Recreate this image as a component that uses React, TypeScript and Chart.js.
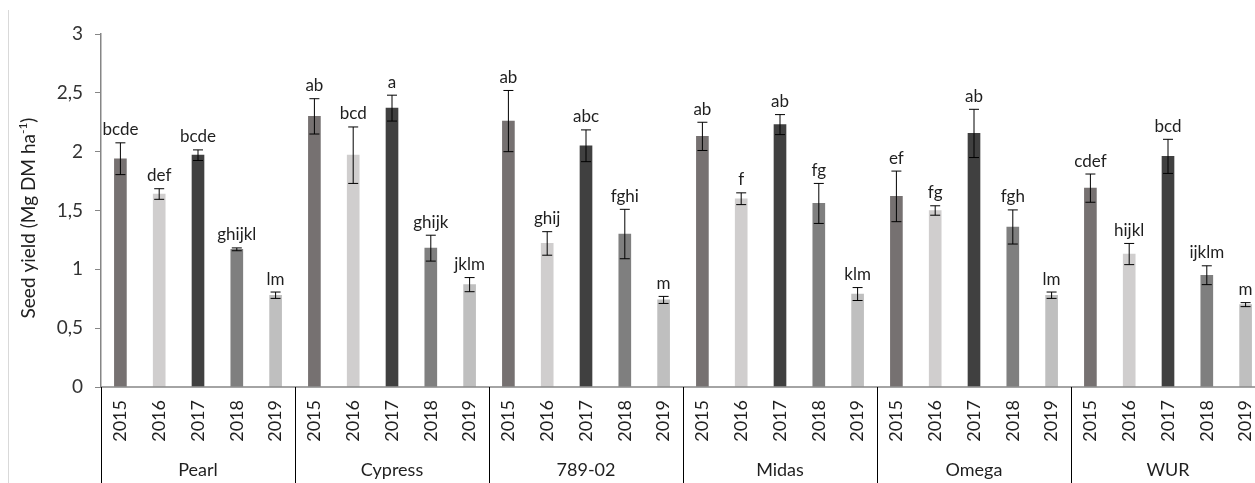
import React, { useEffect, useRef } from "react";
import { Chart, registerables } from "chart.js";

Chart.register(...registerables);

const varieties = ["Pearl", "Cypress", "789-02", "Midas", "Omega", "WUR"];
const years = ["2015", "2016", "2017", "2018", "2019"];
const yTicks = [0, 0.5, 1, 1.5, 2, 2.5, 3];

const meanPearl = [1.94, 1.64, 1.97, 1.17, 0.78];
const meanCypress = [2.3, 1.97, 2.37, 1.18, 0.87];
const mean78902 = [2.26, 1.22, 2.05, 1.3, 0.74];
const meanMidas = [2.13, 1.6, 2.23, 1.56, 0.79];
const meanOmega = [1.62, 1.5, 2.155, 1.36, 0.78];
const meanWUR = [1.69, 1.13, 1.96, 0.95, 0.7];

const errPearl = [0.135, 0.045, 0.045, 0.012, 0.027];
const errCypress = [0.15, 0.24, 0.11, 0.11, 0.06];
const err78902 = [0.26, 0.1, 0.135, 0.21, 0.03];
const errMidas = [0.12, 0.05, 0.085, 0.17, 0.055];
const errOmega = [0.215, 0.04, 0.205, 0.145, 0.027];
const errWUR = [0.12, 0.09, 0.145, 0.08, 0.017];

const letPearl = ["bcde", "def", "bcde", "ghijkl", "lm"];
const letCypress = ["ab", "bcd", "a", "ghijk", "jklm"];
const let78902 = ["ab", "ghij", "abc", "fghi", "m"];
const letMidas = ["ab", "f", "ab", "fg", "klm"];
const letOmega = ["ef", "fg", "ab", "fgh", "lm"];
const letWUR = ["cdef", "hijkl", "bcd", "ijklm", "m"];

const yearColors = ["#767171", "#d0cece", "#404040", "#7f7f7f", "#bfbfbf"];

const means = [meanPearl, meanCypress, mean78902, meanMidas, meanOmega, meanWUR].flat();
const errs = [errPearl, errCypress, err78902, errMidas, errOmega, errWUR].flat();
const lets = [letPearl, letCypress, let78902, letMidas, letOmega, letWUR].flat();
const labels = varieties.flatMap((v) => years.map((y) => `${v} ${y}`));
const colors = varieties.flatMap(() => yearColors);

const FONT = "Lato, 'Open Sans', sans-serif";

const overlayPlugin = {
  id: "overlay",
  afterDatasetsDraw(chart: any) {
    const ctx = chart.ctx;
    const y = chart.scales.y;
    const meta = chart.getDatasetMeta(0);
    ctx.save();
    meta.data.forEach((bar: any, i: number) => {
      const x = bar.x;
      const top = y.getPixelForValue(means[i] + errs[i]);
      const bot = y.getPixelForValue(means[i] - errs[i]);
      ctx.strokeStyle = "#000";
      ctx.lineWidth = 1;
      ctx.beginPath();
      ctx.moveTo(x, top);
      ctx.lineTo(x, bot);
      ctx.moveTo(x - 5, top);
      ctx.lineTo(x + 5, top);
      ctx.moveTo(x - 5, bot);
      ctx.lineTo(x + 5, bot);
      ctx.stroke();
      ctx.fillStyle = "#1f1f1f";
      ctx.font = `17px ${FONT}`;
      ctx.textAlign = "center";
      ctx.textBaseline = "alphabetic";
      ctx.fillText(lets[i], x, top - 7.5);
    });
    ctx.restore();
  },
  afterDraw(chart: any) {
    const ctx = chart.ctx;
    const area = chart.chartArea;
    const meta = chart.getDatasetMeta(0);
    const H = chart.height;
    const catW = (area.right - area.left) / labels.length;
    ctx.save();
    // light chart border
    ctx.strokeStyle = "#d9d9d9";
    ctx.lineWidth = 1;
    ctx.beginPath();
    ctx.moveTo(8.5, 10);
    ctx.lineTo(8.5, H);
    ctx.stroke();
    // x axis line
    ctx.strokeStyle = "#868686";
    ctx.lineWidth = 1.5;
    ctx.beginPath();
    ctx.moveTo(area.left, area.bottom);
    ctx.lineTo(area.right, area.bottom);
    ctx.stroke();
    // separators
    ctx.strokeStyle = "#000";
    ctx.lineWidth = 1;
    for (let g = 0; g <= varieties.length; g++) {
      const x = Math.round(area.left + g * 5 * catW) + 0.5;
      ctx.beginPath();
      ctx.moveTo(x, area.bottom);
      ctx.lineTo(x, H);
      ctx.stroke();
    }
    // year labels
    ctx.fillStyle = "#1f1f1f";
    ctx.font = `18px ${FONT}`;
    meta.data.forEach((bar: any, i: number) => {
      ctx.save();
      ctx.translate(bar.x, area.bottom + 13);
      ctx.rotate(-Math.PI / 2);
      ctx.textAlign = "right";
      ctx.textBaseline = "middle";
      ctx.fillText(years[i % 5], 0, 0);
      ctx.restore();
    });
    // group labels
    ctx.font = `18px ${FONT}`;
    ctx.textAlign = "center";
    ctx.textBaseline = "middle";
    varieties.forEach((v, g) => {
      const cx = area.left + (g * 5 + 2.5) * catW;
      ctx.fillText(v, cx, 470);
    });
    // y title with superscript
    ctx.save();
    ctx.translate(29, 218);
    ctx.rotate(-Math.PI / 2);
    ctx.fillStyle = "#1f1f1f";
    ctx.textBaseline = "middle";
    ctx.textAlign = "left";
    const mainFont = `19px ${FONT}`;
    const supFont = `12px ${FONT}`;
    const p1 = "Seed yield (Mg DM ha";
    const p2 = "-1";
    const p3 = ")";
    ctx.font = mainFont;
    const w1 = ctx.measureText(p1).width;
    const w3 = ctx.measureText(p3).width;
    ctx.font = supFont;
    const w2 = ctx.measureText(p2).width;
    let sx = -(w1 + w2 + w3) / 2;
    ctx.font = mainFont;
    ctx.fillText(p1, sx, 0);
    sx += w1;
    ctx.font = supFont;
    ctx.fillText(p2, sx, -6);
    sx += w2;
    ctx.font = mainFont;
    ctx.fillText(p3, sx, 0);
    ctx.restore();
    ctx.restore();
  },
};

export default function App() {
  const ref = useRef<HTMLCanvasElement | null>(null);
  useEffect(() => {
    if (!ref.current) return;
    const chart = new Chart(ref.current, {
      type: "bar",
      data: {
        labels,
        datasets: [
          {
            data: means,
            backgroundColor: colors,
            borderWidth: 0,
            barThickness: 12,
          },
        ],
      },
      options: {
        animation: false,
        responsive: false,
        layout: { padding: { left: 0, top: 34, bottom: 96, right: 5 } },
        plugins: {
          legend: { display: false },
          tooltip: { enabled: false },
          title: { display: false },
        },
        scales: {
          x: { display: false },
          y: {
            min: 0,
            max: 3,
            afterFit: (s: any) => {
              s.width = 101;
            },
            afterBuildTicks: (s: any) => {
              s.ticks = yTicks.map((v) => ({ value: v }));
            },
            ticks: {
              padding: 12,
              color: "#333333",
              font: { family: FONT, size: 19 },
              callback: (v: any) => String(v).replace(".", ","),
            },
            grid: {
              drawOnChartArea: false,
              drawTicks: true,
              tickLength: 6,
              color: "#868686",
            },
            border: { display: true, color: "#868686", width: 1.5 },
          },
        },
      },
      plugins: [overlayPlugin],
    });
    let alive = true;
    (document as any).fonts?.ready?.then(() => {
      if (alive) chart.update();
    });
    return () => {
      alive = false;
      chart.destroy();
    };
  }, []);
  return (
    <div
      style={{
        position: "fixed",
        left: 0,
        top: 0,
        width: 1255,
        height: 483,
        overflow: "hidden",
        background: "#fff",
      }}
    >
      <canvas ref={ref} width={1270} height={483} style={{ display: "block" }} />
    </div>
  );
}
